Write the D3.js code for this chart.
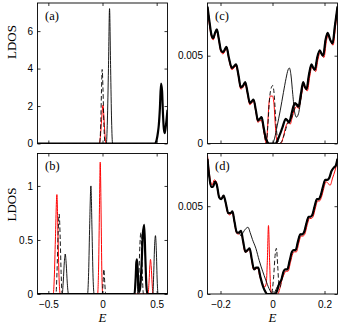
<!DOCTYPE html>
<html lang="en">
<head>
<meta charset="UTF-8" />
<title>LDOS panels</title>
<script src="https://d3js.org/d3.v7.min.js"></script>
<style>
  * { margin: 0; padding: 0; }
  body { background: #fff; }
  svg { display: block; background: #fff; }
  .ax-label { font-family: 'Liberation Serif', 'Times New Roman', serif; font-size: 13px; fill: #000; }
  .panel-label { font-family: 'Liberation Serif', 'Times New Roman', serif; font-size: 12.5px; fill: #000; }
</style>
</head>
<body>
<svg id="chart" width="341" height="327"></svg>
<script>
// ---- tick values ----
const abXTicks = [-0.5, 0, 0.5];
const aYTicks = [0, 2, 4, 6];
const bYTicks = [0, 0.5, 1];
const cdXTicks = [-0.2, 0, 0.2];
const cdYTicks = [0, 0.005];

// ---- panel (a): [E, LDOS] ----
const aRed = [[-0.6,0],[-0.03,0],[-0.019,0.4],[-0.008,1.3],[0.004,2.05],[0.015,1.2],[0.025,0.3],[0.034,0],[0.6,0]];
const aDash = [[-0.6,0],[-0.027,0],[-0.016,1.1],[-0.009,2.9],[-0.003,3.95],[0.005,2.8],[0.013,1.0],[0.024,0],[0.6,0]];
const aThin = [[-0.6,0],[0.035,0],[0.045,1.2],[0.055,4.0],[0.065,7.2],[0.075,4.0],[0.084,1.2],[0.093,0],[0.6,0]];
const aThick = [[-0.6,0],[0.485,0],[0.5,0.2],[0.512,0.6],[0.52,1.0],[0.53,1.9],[0.54,3.2],[0.55,2.8],[0.558,1.6],[0.566,0.8],[0.574,0.55],[0.584,0.9],[0.6,1.8]];

// ---- panel (b) ----
const bRed = [[-0.6,0],[-0.455,0],[-0.445,0.15],[-0.435,0.5],[-0.421,0.92],[-0.41,0.5],[-0.4,0.12],[-0.39,0],
  [-0.045,0],[-0.036,0.25],[-0.028,0.8],[-0.021,1.22],[-0.013,0.75],[-0.006,0.2],[0.002,0],
  [0.42,0],[0.43,0.12],[0.437,0.26],[0.443,0.32],[0.45,0.25],[0.458,0.1],[0.466,0],[0.6,0]];
const bDash = [[-0.6,0],[-0.43,0],[-0.42,0.2],[-0.41,0.55],[-0.4,0.74],[-0.39,0.5],[-0.382,0.2],[-0.372,0],
  [-0.003,0],[0.005,0.1],[0.013,0.23],[0.021,0.1],[0.03,0],
  [0.325,0],[0.335,0.15],[0.345,0.45],[0.354,0.57],[0.362,0.4],[0.37,0.12],[0.378,0],[0.6,0]];
const bThin = [[-0.6,0],[-0.372,0],[-0.362,0.12],[-0.352,0.3],[-0.344,0.37],[-0.335,0.28],[-0.325,0.1],[-0.314,0],
  [-0.138,0],[-0.128,0.2],[-0.118,0.65],[-0.107,1.0],[-0.097,0.6],[-0.087,0.15],[-0.077,0],
  [0.298,0],[0.305,0.15],[0.312,0.3],[0.32,0.18],[0.328,0],
  [0.465,0],[0.473,0.2],[0.481,0.45],[0.489,0.54],[0.497,0.4],[0.505,0.12],[0.513,0],[0.6,0]];
const bThick = [[-0.6,0],[0.295,0],[0.305,0.12],[0.312,0.28],[0.318,0.32],[0.325,0.22],[0.333,0.05],[0.34,0.02],
  [0.35,0.08],[0.362,0.3],[0.372,0.55],[0.385,0.64],[0.395,0.35],[0.405,0.08],[0.415,0],[0.6,0]];

// ---- panel (c) ----
const cLeft = [[-0.25,0.0078],[-0.243,0.0070],[-0.235,0.0062],[-0.228,0.0060],[-0.221,0.0063],[-0.214,0.0065],
  [-0.207,0.0060],[-0.198,0.0053],[-0.19,0.0052],[-0.177,0.0055],[-0.168,0.0049],[-0.156,0.0043],[-0.148,0.0044],
  [-0.14,0.0045],[-0.131,0.0039],[-0.122,0.0032],[-0.113,0.0033],[-0.105,0.0035],[-0.096,0.0029],[-0.087,0.0023],
  [-0.08,0.0024],[-0.073,0.0025],[-0.064,0.0019],[-0.056,0.0013],[-0.049,0.0014],[-0.042,0.0015],[-0.035,0.0010]];
const cThickMid = [[-0.029,0.0005],[-0.02,0.0001],[-0.014,0],[0.012,0],[0.02,0.0002],
  [0.028,0.0005],[0.038,0.0009],[0.051,0.0014],[0.058,0.0013],[0.064,0.0012],[0.072,0.0016],[0.08,0.0021],
  [0.087,0.0023],[0.094,0.0022],[0.1,0.0021],[0.109,0.0028],[0.118,0.0035]];
const cRight = [[0.125,0.0032],[0.131,0.0031],[0.14,0.0039],[0.15,0.0045],[0.157,0.0043],[0.163,0.0042],
  [0.172,0.0049],[0.182,0.0053],[0.189,0.0051],[0.195,0.0050],[0.204,0.0059],[0.212,0.0063],[0.222,0.0059],
  [0.231,0.0057],[0.24,0.0067],[0.25,0.0078]];
const cThinMid = [[-0.029,0.0005],[-0.02,0.0001],[-0.012,0],[0.0,0],[0.008,0.0003],[0.018,0.0010],[0.03,0.0019],
  [0.042,0.0029],[0.052,0.0037],[0.06,0.0042],[0.065,0.0043],[0.071,0.0039],[0.078,0.0028],[0.085,0.0018],
  [0.092,0.0015],[0.1,0.0017],[0.109,0.0025],[0.118,0.0034]];
const cDashMid = [[-0.03,0.0004],[-0.024,0],[-0.018,0.0010],[-0.011,0.0026],[-0.004,0.0032],[0.001,0.0033],
  [0.007,0.0027],[0.013,0.0012],[0.019,0.0003],[0.025,0],[0.035,0.0001],[0.045,0.0005],[0.055,0.0010],
  [0.064,0.0013],[0.072,0.0014],[0.08,0.0018],[0.088,0.0022],[0.096,0.0021],[0.104,0.0022],[0.111,0.0029],[0.118,0.0034]];
const cRed = [[-0.25,0.0077],[-0.243,0.0068],[-0.235,0.0061],[-0.228,0.0059],[-0.221,0.0062],[-0.214,0.0064],
  [-0.207,0.0059],[-0.198,0.0052],[-0.19,0.0051],[-0.177,0.0054],[-0.168,0.0048],[-0.156,0.0042],[-0.148,0.0043],
  [-0.14,0.0044],[-0.131,0.0038],[-0.122,0.0031],[-0.113,0.0032],[-0.105,0.0034],[-0.096,0.0028],[-0.087,0.0022],
  [-0.08,0.0023],[-0.073,0.0024],[-0.064,0.0018],[-0.056,0.0012],[-0.049,0.0013],[-0.042,0.0013],[-0.035,0.0008],
  [-0.029,0.0003],[-0.024,0],[-0.019,0.0009],[-0.014,0.0022],[-0.008,0.0027],[0.0,0.0027],[0.006,0.0022],
  [0.011,0.0010],[0.016,0.0002],[0.022,0],[0.032,0],[0.042,0.0004],[0.052,0.0010],[0.06,0.0012],[0.068,0.0011],
  [0.076,0.0015],[0.084,0.0019],[0.092,0.0021],[0.1,0.0020],[0.111,0.0027],[0.12,0.0034],[0.127,0.0031],
  [0.134,0.0030],[0.143,0.0038],[0.152,0.0044],[0.159,0.0042],[0.166,0.0041],[0.175,0.0048],[0.184,0.0052],
  [0.191,0.0050],[0.198,0.0049],[0.207,0.0058],[0.214,0.0062],[0.224,0.0058],[0.233,0.0056],[0.242,0.0066],[0.25,0.0077]];

// ---- panel (d) ----
const dLeftA = [[-0.25,0.0077],[-0.244,0.0068],[-0.236,0.0061],[-0.229,0.0061],[-0.221,0.0064],[-0.214,0.0062],
  [-0.205,0.0055],[-0.197,0.0054],[-0.188,0.0056],[-0.18,0.0052],[-0.17,0.0046],[-0.162,0.0046],[-0.154,0.0047],
  [-0.146,0.0041],[-0.137,0.0035],[-0.129,0.0035]];
const dLeftB = [[-0.121,0.0036],[-0.113,0.0030],[-0.104,0.0024],[-0.096,0.0025],[-0.088,0.0026],[-0.08,0.0020],
  [-0.071,0.0014],[-0.063,0.0015],[-0.055,0.0015],[-0.047,0.0010],[-0.038,0.0005]];
const dRight = [[0.034,0.0008],[0.043,0.0013],[0.05,0.0014],[0.057,0.0014],[0.066,0.0019],[0.075,0.0024],
  [0.082,0.0025],[0.089,0.0025],[0.098,0.0030],[0.107,0.0034],[0.114,0.0034],[0.121,0.0035],[0.13,0.0040],
  [0.139,0.0044],[0.146,0.0044],[0.153,0.0045],[0.162,0.0050],[0.171,0.0054],[0.178,0.0054],[0.185,0.0056],
  [0.194,0.0061],[0.203,0.0065],[0.21,0.0065],[0.218,0.0066],[0.227,0.0070],[0.236,0.0072],[0.243,0.0073],[0.25,0.0077]];
const dThickMid = [[-0.03,0.0002],[-0.02,0],[0.01,0],[0.018,0.0002],[0.026,0.0006]];
const dThinMid = [[-0.121,0.0033],[-0.113,0.0035],[-0.104,0.0037],[-0.094,0.0038],[-0.086,0.0035],[-0.077,0.0031],
  [-0.064,0.0026],[-0.051,0.0019],[-0.038,0.0013],[-0.026,0.0008],[-0.013,0.0003],[0.0,0],[0.008,0.0001],
  [0.018,0.0004],[0.026,0.0006]];
const dDashMid = [[-0.03,0.0002],[-0.02,0],[-0.004,0],[0.004,0.0009],[0.01,0.0022],[0.015,0.0026],[0.02,0.0016],
  [0.025,0.0005],[0.03,0.0004]];
const dRed = [[-0.25,0.0079],[-0.244,0.0070],[-0.238,0.0064],[-0.232,0.0062],[-0.224,0.0065],[-0.216,0.0064],
  [-0.207,0.0056],[-0.199,0.0054],[-0.19,0.0056],[-0.182,0.0053],[-0.172,0.0046],[-0.164,0.0045],[-0.156,0.0047],
  [-0.148,0.0042],[-0.139,0.0035],[-0.131,0.0034],[-0.123,0.0036],[-0.115,0.0031],[-0.106,0.0024],[-0.098,0.0024],
  [-0.09,0.0026],[-0.082,0.0021],[-0.073,0.0014],[-0.065,0.0014],[-0.057,0.0015],[-0.049,0.0010],
  [-0.038,0.0006],[-0.03,0.0004],[-0.024,0.0006],[-0.02,0.0018],[-0.0155,0.0039],[-0.011,0.0018],[-0.007,0.0003],
  [-0.002,0],[0.02,0],[0.028,0.0003],[0.036,0.0008],[0.044,0.0011],[0.052,0.0013],[0.06,0.0013],[0.069,0.0018],
  [0.078,0.0023],[0.085,0.0024],[0.092,0.0024],[0.101,0.0029],[0.11,0.0033],[0.117,0.0033],[0.124,0.0034],
  [0.133,0.0039],[0.142,0.0043],[0.149,0.0043],[0.156,0.0044],[0.165,0.0049],[0.174,0.0053],[0.181,0.0053],
  [0.188,0.0055],[0.197,0.0060],[0.206,0.0064],[0.213,0.0063],[0.222,0.0062],[0.231,0.0066],[0.24,0.0070],[0.25,0.0076]];

// ---- layout ----
const W = 130, H = 140.5;
const svg = d3.select('#chart');
const fmt = v => d3.format('')(v).replace('-', '\u2212');

const panels = [
  { name: '(a)', x: 37.5, y: 3, xd: [-0.6, 0.6], yd: [0, 7.5], xt: abXTicks, yt: aYTicks, showX: false,
    series: { red: aRed, dash: aDash, thin: aThin, thick: aThick } },
  { name: '(b)', x: 37.5, y: 153.5, xd: [-0.6, 0.6], yd: [0, 1.3], xt: abXTicks, yt: bYTicks, showX: true,
    series: { red: bRed, dash: bDash, thin: bThin, thick: bThick } },
  { name: '(c)', x: 207.5, y: 3, xd: [-0.25, 0.25], yd: [0, 0.008], xt: cdXTicks, yt: cdYTicks, showX: false,
    series: { red: cRed, dash: cLeft.concat(cDashMid, cRight), thin: cLeft.concat(cThinMid, cRight),
              thick: cLeft.concat(cThickMid, cRight) } },
  { name: '(d)', x: 207.5, y: 153.5, xd: [-0.25, 0.25], yd: [0, 0.008], xt: cdXTicks, yt: cdYTicks, showX: true,
    series: { red: dRed, dash: dLeftA.concat(dLeftB, dDashMid, dRight), thin: dLeftA.concat(dThinMid, dRight),
              thick: dLeftA.concat(dLeftB, dThickMid, dRight) } }
];

const styles = [
  { key: 'red', color: '#ff0000', width: 1, dash: null },
  { key: 'dash', color: '#000', width: 0.9, dash: '4.5,2.5' },
  { key: 'thin', color: '#000', width: 0.9, dash: null },
  { key: 'thick', color: '#000', width: 2.2, dash: null }
];

function styleAxis(g) {
  g.select('.domain').remove();
  g.selectAll('line').attr('stroke', '#000').attr('stroke-width', 0.8);
  g.selectAll('text').attr('font-family', "'Liberation Sans', Arial, sans-serif")
    .attr('font-size', 10).attr('fill', '#000');
}

function drawPanel(p, i) {
  const g = svg.append('g').attr('transform', `translate(${p.x},${p.y})`);
  const sx = d3.scaleLinear().domain(p.xd).range([0, W]);
  const sy = d3.scaleLinear().domain(p.yd).range([H, 0]);

  g.append('clipPath').attr('id', 'clip' + i)
    .append('rect').attr('width', W).attr('height', H);

  const line = d3.line()
    .x(d => sx(d[0]))
    .y(d => sy(d[1]))
    .curve(d3.curveMonotoneX);

  const plot = g.append('g').attr('clip-path', `url(#clip${i})`);
  styles.forEach(s => {
    plot.append('path')
      .datum(p.series[s.key])
      .attr('d', line)
      .attr('fill', 'none')
      .attr('stroke', s.color)
      .attr('stroke-width', s.width)
      .attr('stroke-linejoin', 'round')
      .attr('stroke-dasharray', s.dash);
  });

  // inward ticks on all four sides
  g.append('g').attr('transform', `translate(0,${H})`)
    .call(d3.axisBottom(sx).tickValues(p.xt).tickSize(-3).tickPadding(7.3)
      .tickFormat(p.showX ? fmt : () => ''))
    .call(styleAxis);
  g.append('g')
    .call(d3.axisTop(sx).tickValues(p.xt).tickSize(-3).tickFormat(() => ''))
    .call(styleAxis);
  g.append('g')
    .call(d3.axisLeft(sy).tickValues(p.yt).tickSize(-3).tickPadding(4.5).tickFormat(fmt))
    .call(styleAxis);
  g.append('g').attr('transform', `translate(${W},0)`)
    .call(d3.axisRight(sy).tickValues(p.yt).tickSize(-3).tickFormat(() => ''))
    .call(styleAxis);

  g.append('rect')
    .attr('width', W).attr('height', H)
    .attr('fill', 'none').attr('stroke', '#000').attr('stroke-width', 0.9);

  g.append('text').attr('class', 'panel-label')
    .attr('x', 7.5).attr('y', 16.5).text(p.name);
}

panels.forEach(drawPanel);

// axis titles
[42, 204.5].forEach(cy => {
  svg.append('text').attr('class', 'ax-label')
    .attr('transform', `translate(15.5,${cy}) rotate(-90)`)
    .attr('text-anchor', 'middle').text('LDOS');
});
[102.5, 272.5].forEach(cx => {
  svg.append('text').attr('class', 'ax-label')
    .attr('x', cx).attr('y', 321.5)
    .attr('font-size', 12.5)
    .attr('text-anchor', 'middle').attr('font-style', 'italic').text('E');
});
</script>
</body>
</html>
